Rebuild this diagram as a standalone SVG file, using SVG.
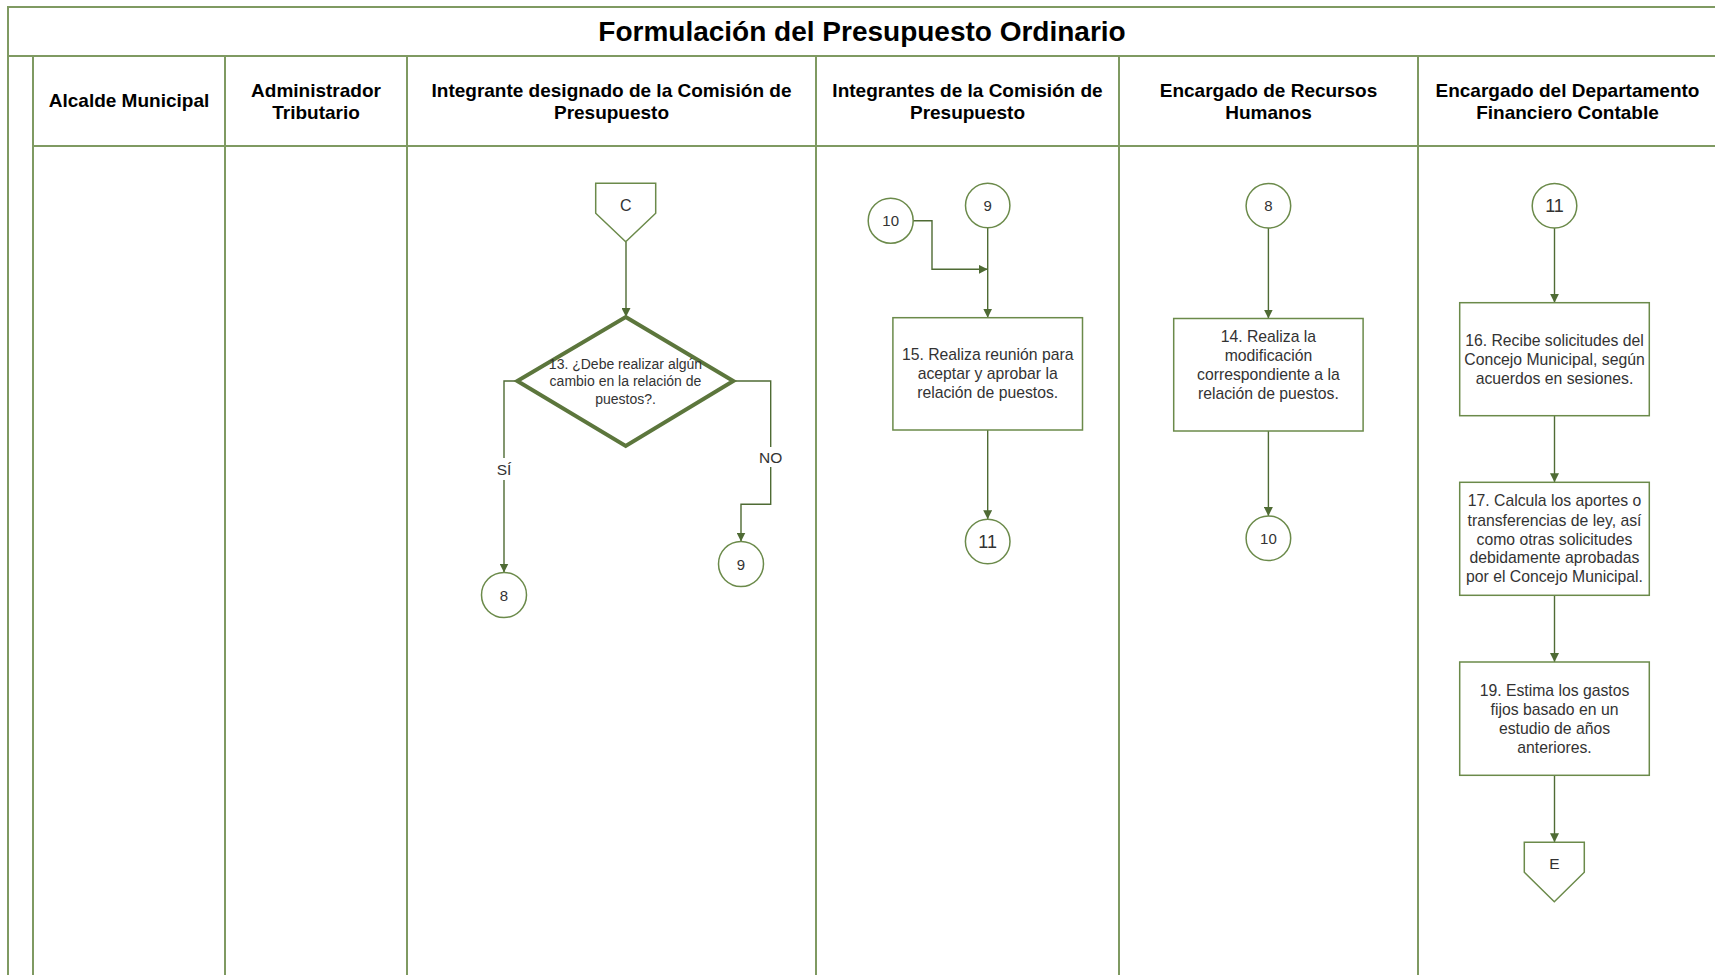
<svg xmlns="http://www.w3.org/2000/svg" width="1715" height="975" viewBox="0 0 1715 975">
  <defs>
    <style>
      .frame { stroke: #7f9a62; stroke-width: 2; fill: none; }
      .title { font-family: "Liberation Sans", Arial, sans-serif; font-weight: bold; font-size: 28px; fill: #000; text-anchor: middle; }
      .lane { font-family: "Liberation Sans", Arial, sans-serif; font-weight: bold; font-size: 19px; fill: #000; text-anchor: middle; }
      .box { fill: #fff; stroke: #6b8a4a; stroke-width: 1.5; }
      .circ { fill: #fff; stroke: #6b8a4a; stroke-width: 1.5; }
      .dec { fill: #fff; stroke: #5c763c; stroke-width: 4; stroke-linejoin: miter; }
      .txt { font-family: "Liberation Sans", Arial, sans-serif; font-size: 15.75px; fill: #333; text-anchor: middle; }
      .dtxt { font-family: "Liberation Sans", Arial, sans-serif; font-size: 14px; fill: #333; text-anchor: middle; }
      .num { font-family: "Liberation Sans", Arial, sans-serif; font-size: 15px; fill: #333; text-anchor: middle; }
      .numl { font-family: "Liberation Sans", Arial, sans-serif; font-size: 18px; fill: #333; text-anchor: middle; }
      .edge { fill: none; stroke: #4f6b34; stroke-width: 1.4; }
      .lbl { font-family: "Liberation Sans", Arial, sans-serif; font-size: 15.5px; fill: #333; text-anchor: middle; }
    </style>
    <marker id="arrow" viewBox="0 0 10 10" refX="10" refY="5" markerWidth="9" markerHeight="9" markerUnits="userSpaceOnUse" orient="auto">
      <path d="M0,0 L10,5 L0,10 Z" fill="#4f6b34"/>
    </marker>
  </defs>

  <rect width="1715" height="975" fill="#fff"/>

  <!-- swimlane frame -->
  <g id="frame">
    <line class="frame" x1="7" y1="7" x2="1715" y2="7"/>
    <line class="frame" x1="8" y1="7" x2="8" y2="975"/>
    <line class="frame" x1="8" y1="56" x2="1715" y2="56"/>
    <line class="frame" x1="33" y1="146" x2="1715" y2="146"/>
    <line class="frame" x1="33" y1="56" x2="33" y2="975"/>
    <line class="frame" x1="225" y1="56" x2="225" y2="975"/>
    <line class="frame" x1="407" y1="56" x2="407" y2="975"/>
    <line class="frame" x1="816" y1="56" x2="816" y2="975"/>
    <line class="frame" x1="1119" y1="56" x2="1119" y2="975"/>
    <line class="frame" x1="1418" y1="56" x2="1418" y2="975"/>
    <text class="title" x="862" y="41">Formulación del Presupuesto Ordinario</text>
    <text class="lane" x="129" y="107">Alcalde Municipal</text>
    <text class="lane" x="316" y="97">Administrador</text>
    <text class="lane" x="316" y="119">Tributario</text>
    <text class="lane" x="611.5" y="97">Integrante designado de la Comisión de</text>
    <text class="lane" x="611.5" y="119">Presupuesto</text>
    <text class="lane" x="967.5" y="97">Integrantes de la Comisión de</text>
    <text class="lane" x="967.5" y="119">Presupuesto</text>
    <text class="lane" x="1268.5" y="97">Encargado de Recursos</text>
    <text class="lane" x="1268.5" y="119">Humanos</text>
    <text class="lane" x="1567.5" y="97">Encargado del Departamento</text>
    <text class="lane" x="1567.5" y="119">Financiero Contable</text>
  </g>

  <!-- connectors -->
  <g id="connectors">
    <line class="edge" x1="626" y1="242" x2="626" y2="317" marker-end="url(#arrow)"/>
    <polyline class="edge" points="517,381 504,381 504,572.5" marker-end="url(#arrow)"/>
    <polyline class="edge" points="734,381 770.7,381 770.7,504.3 741,504.3 741,541.5" marker-end="url(#arrow)"/>
    <polyline class="edge" points="913,220.7 932,220.7 932,269.3 987.7,269.3" marker-end="url(#arrow)"/>
    <line class="edge" x1="987.7" y1="227.7" x2="987.7" y2="317.7" marker-end="url(#arrow)"/>
    <line class="edge" x1="987.7" y1="430" x2="987.7" y2="519.2" marker-end="url(#arrow)"/>
    <line class="edge" x1="1268.4" y1="228" x2="1268.4" y2="318.5" marker-end="url(#arrow)"/>
    <line class="edge" x1="1268.4" y1="431" x2="1268.4" y2="516" marker-end="url(#arrow)"/>
    <line class="edge" x1="1554.5" y1="228" x2="1554.5" y2="302.7" marker-end="url(#arrow)"/>
    <line class="edge" x1="1554.5" y1="415.7" x2="1554.5" y2="482.3" marker-end="url(#arrow)"/>
    <line class="edge" x1="1554.5" y1="595.3" x2="1554.5" y2="662" marker-end="url(#arrow)"/>
    <line class="edge" x1="1554.5" y1="775.3" x2="1554.5" y2="842.3" marker-end="url(#arrow)"/>
    <rect x="494" y="458" width="20" height="22" fill="#fff"/>
    <text class="lbl" x="504" y="475">SÍ</text>
    <rect x="757" y="447" width="28" height="20" fill="#fff"/>
    <text class="lbl" x="770.7" y="463">NO</text>
  </g>

  <g id="offpage-C">
    <polygon class="box" points="595.7,183.3 655.7,183.3 655.7,213.3 625.7,241.7 595.7,213.3"/>
    <text class="num" x="625.7" y="211" style="font-size:16px">C</text>
  </g>

  <g id="decision-13">
    <polygon class="dec" points="625.7,317 733.3,381 625.7,446 517.3,381"/>
    <text class="dtxt" x="625.5" y="368.5">13. ¿Debe realizar algún</text>
    <text class="dtxt" x="625.5" y="386">cambio en la relación de</text>
    <text class="dtxt" x="625.5" y="403.5">puestos?.</text>
  </g>

  <g id="conn-8-out">
    <circle class="circ" cx="504" cy="595" r="22.5"/>
    <text class="num" x="504" y="600.5">8</text>
  </g>

  <g id="conn-9-out">
    <circle class="circ" cx="741" cy="564" r="22.5"/>
    <text class="num" x="741" y="569.5">9</text>
  </g>

  <g id="conn-10-in">
    <circle class="circ" cx="890.7" cy="220.7" r="22.5"/>
    <text class="num" x="890.7" y="226.2">10</text>
  </g>

  <g id="conn-9-in">
    <circle class="circ" cx="987.7" cy="205.5" r="22.2"/>
    <text class="num" x="987.7" y="211">9</text>
  </g>

  <g id="step-15">
    <rect class="box" x="892.9" y="317.7" width="189.6" height="112.3"/>
    <text class="txt" x="987.7" y="360">15. Realiza reunión para</text>
    <text class="txt" x="987.7" y="379">aceptar y aprobar la</text>
    <text class="txt" x="987.7" y="398">relación de puestos.</text>
  </g>

  <g id="conn-11-out">
    <circle class="circ" cx="987.7" cy="541.5" r="22.3"/>
    <text class="numl" x="987.7" y="548">11</text>
  </g>

  <g id="conn-8-in">
    <circle class="circ" cx="1268.4" cy="205.7" r="22.3"/>
    <text class="num" x="1268.4" y="211.2">8</text>
  </g>

  <g id="step-14">
    <rect class="box" x="1173.7" y="318.5" width="189.4" height="112.5"/>
    <text class="txt" x="1268.4" y="341.5">14. Realiza la</text>
    <text class="txt" x="1268.4" y="360.5">modificación</text>
    <text class="txt" x="1268.4" y="379.5">correspondiente a la</text>
    <text class="txt" x="1268.4" y="398.5">relación de puestos.</text>
  </g>

  <g id="conn-10-out">
    <circle class="circ" cx="1268.4" cy="538.3" r="22.3"/>
    <text class="num" x="1268.4" y="543.8">10</text>
  </g>

  <g id="conn-11-in">
    <circle class="circ" cx="1554.5" cy="205.7" r="22.3"/>
    <text class="numl" x="1554.5" y="212.2">11</text>
  </g>

  <g id="step-16">
    <rect class="box" x="1459.7" y="302.7" width="189.6" height="113"/>
    <text class="txt" x="1554.5" y="345.5">16. Recibe solicitudes del</text>
    <text class="txt" x="1554.5" y="364.5">Concejo Municipal, según</text>
    <text class="txt" x="1554.5" y="383.8">acuerdos en sesiones.</text>
  </g>

  <g id="step-17">
    <rect class="box" x="1459.7" y="482.3" width="189.6" height="113"/>
    <text class="txt" x="1554.5" y="506.2">17. Calcula los aportes o</text>
    <text class="txt" x="1554.5" y="525.5">transferencias de ley, así</text>
    <text class="txt" x="1554.5" y="544.5">como otras solicitudes</text>
    <text class="txt" x="1554.5" y="563.2">debidamente aprobadas</text>
    <text class="txt" x="1554.5" y="582.2">por el Concejo Municipal.</text>
  </g>

  <g id="step-19">
    <rect class="box" x="1459.7" y="662" width="189.6" height="113.3"/>
    <text class="txt" x="1554.5" y="695.5">19. Estima los gastos</text>
    <text class="txt" x="1554.5" y="714.8">fijos basado en un</text>
    <text class="txt" x="1554.5" y="733.8">estudio de años</text>
    <text class="txt" x="1554.5" y="752.5">anteriores.</text>
  </g>

  <g id="offpage-E">
    <polygon class="box" points="1524.3,842.3 1584.3,842.3 1584.3,872.3 1554.3,901.7 1524.3,872.3"/>
    <text class="num" x="1554.3" y="869" style="font-size:15.5px">E</text>
  </g>
</svg>
